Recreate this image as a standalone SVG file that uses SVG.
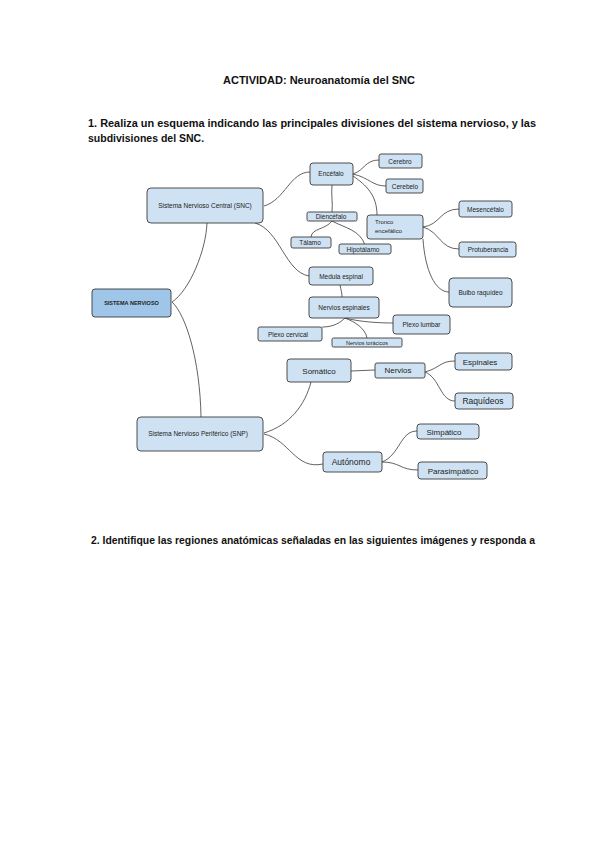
<svg xmlns="http://www.w3.org/2000/svg" width="600" height="848" viewBox="0 0 600 848">
<style>
.bg{fill:#ffffff}
.n rect{fill:#cfe2f3;stroke:#3a3a3a;stroke-width:0.9}
.n text{font-family:"Liberation Sans",Arial,sans-serif;font-size:6.5px;fill:#222;text-anchor:middle}
.n .big{font-size:8px}
.root rect{fill:#9fc5e8}
.root text{font-weight:bold;font-size:5.5px}
.c path{fill:none;stroke:#3a3a3a;stroke-width:0.8}
.h{font-family:"Liberation Sans",Arial,sans-serif;font-weight:bold;font-size:10.5px;fill:#111}
</style>
<rect class="bg" x="0" y="0" width="600" height="848"/>
<text class="h" x="223" y="84" textLength="192" lengthAdjust="spacingAndGlyphs">ACTIVIDAD: Neuroanatomía del SNC</text>
<text class="h" x="88" y="127" textLength="448" lengthAdjust="spacingAndGlyphs">1. Realiza un esquema indicando las principales divisiones del sistema nervioso, y las</text>
<text class="h" x="88" y="142">subdivisiones del SNC.</text>
<text class="h" x="91" y="544" textLength="444" lengthAdjust="spacingAndGlyphs">2. Identifique las regiones anatómicas señaladas en las siguientes imágenes y responda a</text>

<g class="c">
<path d="M172,302 C190,290 206,250 207,223"/>
<path d="M172,302 C186,315 200,360 201,417"/>
<path d="M264,206 C285,200 290,172 310,172"/>
<path d="M255,223 C280,230 285,272 309,276"/>
<path d="M353,174 C365,170 365,160 379,160"/>
<path d="M353,174 C370,178 372,186 386,186"/>
<path d="M332,185 C331,195 333,203 332,212"/>
<path d="M353,176 C366,185 377,195 377,215"/>
<path d="M332,221 C325,230 312,228 311,237"/>
<path d="M332,221 C345,228 360,230 365,245"/>
<path d="M423,227 C440,225 440,209 459,209"/>
<path d="M423,227 C440,232 440,249 459,249"/>
<path d="M423,239 C425,270 435,292 449,292"/>
<path d="M340,285 C341,290 342,293 342,297"/>
<path d="M345,318 C338,325 330,327 322,327"/>
<path d="M345,318 C355,322 365,328 367,338"/>
<path d="M345,318 C360,322 380,323 393,323"/>
<path d="M351,371 L375,370"/>
<path d="M425,372 C440,368 440,361 455,361"/>
<path d="M425,372 C440,378 440,401 455,401"/>
<path d="M264,433 C290,425 305,405 311,382"/>
<path d="M264,434 C290,440 295,470 323,464"/>
<path d="M382,462 C400,455 400,431 417,431"/>
<path d="M382,462 C400,462 400,470 418,470"/>
</g>

<g id="sistema-nervioso" class="n root"><rect x="92" y="289" width="79" height="28" rx="3"/><text x="131.5" y="305">SISTEMA NERVIOSO</text></g>
<g id="snc" class="n"><rect x="147" y="188" width="116" height="35" rx="4"/><text x="205" y="208">Sistema Nervioso Central (SNC)</text></g>
<g id="snp" class="n"><rect x="137" y="417" width="126" height="34" rx="4"/><text x="198" y="436">Sistema Nervioso Periférico (SNP)</text></g>
<g id="encefalo" class="n"><rect x="310" y="163" width="43" height="22" rx="3"/><text x="331" y="176">Encéfalo</text></g>
<g id="cerebro" class="n"><rect x="379" y="154" width="43" height="14" rx="2"/><text x="400" y="163.5">Cerebro</text></g>
<g id="cerebelo" class="n"><rect x="386" y="179" width="37" height="14" rx="2"/><text x="405" y="188.5">Cerebelo</text></g>
<g id="diencefalo" class="n"><rect x="307" y="212" width="50" height="9" rx="1.5"/><text x="331" y="219">Diencéfalo</text></g>
<g id="talamo" class="n"><rect x="291" y="237" width="40" height="11" rx="2"/><text x="310" y="245">Tálamo</text></g>
<g id="hipotalamo" class="n"><rect x="339" y="244" width="52" height="10" rx="2"/><text x="363" y="251.5">Hipotálamo</text></g>
<g id="tronco" class="n"><rect x="367" y="215" width="56" height="24" rx="3"/><text x="375" y="224" style="text-anchor:start;font-size:6px">Tronco</text><text x="375" y="233" style="text-anchor:start;font-size:6px">encefálico</text></g>
<g id="mesencefalo" class="n"><rect x="459" y="201" width="53" height="16" rx="2.5"/><text x="485.5" y="211.5">Mesencéfalo</text></g>
<g id="protuberancia" class="n"><rect x="459" y="242" width="57" height="15" rx="2.5"/><text x="488" y="252">Protuberancia</text></g>
<g id="bulbo" class="n"><rect x="449" y="278" width="63" height="29" rx="4"/><text x="480.5" y="295">Bulbo raquídeo</text></g>
<g id="medula" class="n"><rect x="309" y="267" width="64" height="18" rx="3"/><text x="341" y="278.5">Medula espinal</text></g>
<g id="nervios-espinales" class="n"><rect x="309" y="297" width="70" height="21" rx="3"/><text x="344" y="310">Nervios espinales</text></g>
<g id="plexo-lumbar" class="n"><rect x="393" y="315" width="57" height="19" rx="3"/><text x="421.5" y="327">Plexo lumbar</text></g>
<g id="plexo-cervical" class="n"><rect x="258" y="327" width="64" height="14" rx="2"/><text x="288" y="336.5">Plexo cervical</text></g>
<g id="nervios-toracicos" class="n"><rect x="332" y="338" width="70" height="9" rx="1.5"/><text x="367" y="345" style="font-size:5.5px">Nervios torácicos</text></g>
<g id="somatico" class="n"><rect x="287" y="359" width="64" height="23" rx="3"/><text class="big" x="319" y="373.5">Somático</text></g>
<g id="nervios" class="n"><rect x="375" y="363" width="50" height="15" rx="2"/><text class="big" x="398" y="373">Nervios</text></g>
<g id="espinales" class="n"><rect x="455" y="353" width="57" height="17" rx="3"/><text class="big" x="480" y="364.5">Espinales</text></g>
<g id="raquideos" class="n"><rect x="455" y="393" width="58" height="16" rx="3"/><text class="big" x="483" y="404" style="font-size:8.5px">Raquídeos</text></g>
<g id="autonomo" class="n"><rect x="323" y="452" width="59" height="20" rx="3"/><text class="big" x="351" y="465" style="font-size:8.5px">Autónomo</text></g>
<g id="simpatico" class="n"><rect x="417" y="424" width="62" height="15" rx="3"/><text class="big" x="444" y="434.5">Simpático</text></g>
<g id="parasimpatico" class="n"><rect x="418" y="462" width="69" height="17" rx="3"/><text class="big" x="453" y="473.5">Parasimpático</text></g>
</svg>
